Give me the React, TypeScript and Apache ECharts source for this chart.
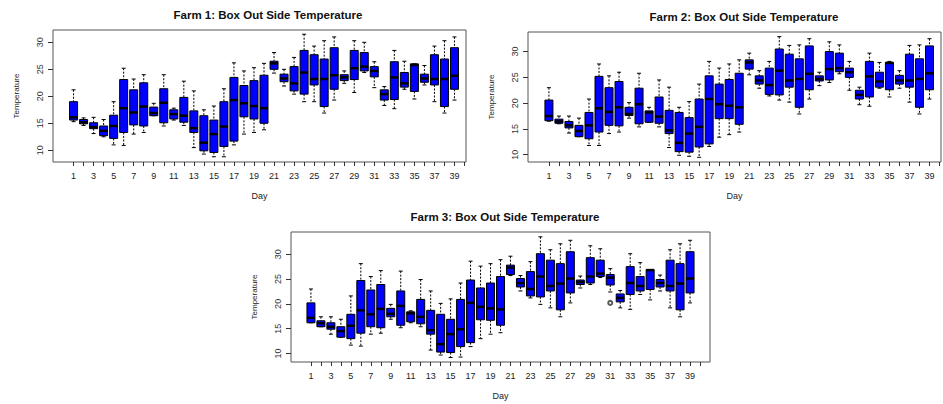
import React, { useEffect, useRef } from "react";
import * as echarts from "echarts";

const days = [1, 2, 3, 4, 5, 6, 7, 8, 9, 10, 11, 12, 13, 14, 15, 16, 17, 18, 19, 20, 21, 22, 23, 24, 25, 26, 27, 28, 29, 30, 31, 32, 33, 34, 35, 36, 37, 38, 39];
const tickDays = [1, 2, 3, 4, 5, 6, 7, 8, 9, 10, 11, 12, 13, 14, 15, 16, 17, 18, 19, 20, 21, 22, 23, 24, 25, 26, 27, 28, 29, 30, 31, 32, 33, 34, 35, 36, 37, 38, 39, 40];
const labelDays = [1, 3, 5, 7, 9, 11, 13, 15, 17, 19, 21, 23, 25, 27, 29, 31, 33, 35, 37, 39];
const tempTicks = [10, 15, 20, 25, 30];

const titles = [
  "Farm 1: Box Out Side Temperature",
  "Farm 2: Box Out Side Temperature",
  "Farm 3: Box Out Side Temperature",
];

// Farm 1
const f1Min = [15.3, 14.6, 13.1, 12.5, 11.0, 10.9, 13.0, 13.3, 16.4, 14.5, 15.6, 14.6, 10.5, 9.3, 8.8, 8.8, 11.0, 13.0, 13.3, 13.8, 24.3, 21.9, 20.4, 19.0, 19.0, 16.9, 19.3, 22.4, 20.7, 24.4, 21.6, 18.3, 17.7, 21.3, 19.5, 22.1, 19.0, 16.9, 19.3];
const f1Q1 = [15.6, 14.9, 14.0, 12.7, 12.2, 13.3, 14.7, 14.5, 16.4, 15.1, 15.8, 15.2, 13.3, 9.9, 9.6, 10.7, 11.7, 16.2, 15.8, 15.0, 25.0, 22.7, 21.0, 20.4, 22.1, 18.1, 21.3, 22.9, 23.1, 24.7, 23.6, 19.3, 19.4, 21.7, 20.9, 22.6, 22.1, 18.1, 21.3];
const f1Med = [16.1, 15.2, 14.3, 13.6, 14.5, 17.8, 17.0, 18.1, 16.9, 18.8, 16.7, 16.4, 14.1, 11.4, 13.0, 14.4, 19.3, 18.7, 18.2, 17.8, 26.1, 23.3, 22.4, 24.4, 23.2, 23.2, 23.9, 23.5, 25.2, 25.5, 24.7, 20.4, 23.5, 22.4, 25.8, 23.3, 23.2, 23.2, 23.8];
const f1Q3 = [19.0, 15.7, 15.1, 14.5, 16.5, 23.1, 21.2, 22.5, 18.0, 21.4, 17.5, 19.8, 17.3, 16.4, 15.6, 19.0, 23.5, 22.0, 22.9, 23.9, 26.5, 24.1, 25.5, 28.5, 27.7, 26.9, 29.0, 24.0, 28.5, 28.1, 25.5, 21.2, 26.4, 24.4, 26.0, 24.1, 27.7, 26.9, 29.0];
const f1Max = [21.2, 16.0, 16.1, 15.7, 19.0, 25.2, 23.2, 24.0, 18.7, 24.0, 17.8, 22.8, 21.0, 17.5, 18.2, 21.4, 26.2, 24.7, 25.3, 26.1, 28.1, 25.0, 27.2, 31.5, 29.3, 30.3, 31.0, 24.7, 30.3, 30.0, 26.4, 21.8, 28.5, 26.5, 26.0, 25.7, 29.3, 30.3, 31.0];

// Farm 2
const f2Min = [16.5, 16.0, 14.2, 13.5, 11.8, 11.8, 14.1, 14.4, 17.1, 15.4, 16.3, 15.4, 11.4, 9.9, 9.7, 9.5, 11.6, 13.4, 13.9, 14.4, 25.5, 22.9, 21.4, 20.6, 20.2, 17.9, 20.8, 23.4, 24.0, 25.7, 22.5, 19.7, 19.4, 22.9, 21.2, 22.9, 20.2, 17.9, 20.8];
const f2Q1 = [16.6, 16.1, 15.2, 13.5, 13.1, 14.4, 15.7, 15.6, 17.6, 16.0, 16.3, 16.1, 14.1, 10.6, 10.5, 11.5, 12.1, 17.0, 17.0, 15.9, 26.6, 23.7, 21.7, 21.6, 23.1, 19.2, 22.6, 24.3, 24.5, 26.1, 25.0, 20.8, 21.2, 23.1, 22.6, 23.7, 23.1, 19.2, 22.6];
const f2Med = [17.5, 16.45, 15.7, 14.6, 15.7, 19.0, 18.3, 19.2, 17.9, 19.8, 18.2, 17.4, 14.7, 12.3, 14.1, 15.4, 20.8, 19.8, 19.5, 19.2, 27.9, 24.4, 23.5, 26.3, 24.4, 24.7, 25.7, 24.7, 26.6, 26.8, 26.0, 21.6, 25.2, 24.2, 27.8, 24.4, 24.4, 24.7, 25.8];
const f2Q3 = [20.6, 16.9, 16.45, 15.7, 18.2, 25.2, 23.0, 24.2, 19.2, 22.9, 18.5, 21.2, 18.6, 18.2, 17.2, 20.8, 25.3, 23.7, 24.6, 25.8, 28.4, 25.3, 26.8, 30.5, 29.5, 28.6, 31.1, 25.3, 30.0, 29.7, 26.8, 22.5, 28.1, 26.0, 27.9, 25.4, 29.5, 28.6, 31.1];
const f2Max = [23.0, 17.5, 17.5, 17.1, 20.8, 27.6, 25.3, 26.0, 20.1, 25.8, 19.2, 24.5, 23.1, 19.2, 20.3, 23.7, 28.1, 26.8, 27.6, 28.4, 29.7, 26.3, 28.1, 32.9, 31.2, 31.3, 32.5, 26.0, 31.9, 31.3, 28.1, 23.1, 29.7, 27.9, 28.1, 26.3, 31.2, 31.3, 32.5];

// Farm 3
const f3Min = [16.2, 15.4, 13.9, 13.3, 11.7, 11.5, 13.9, 14.1, 16.9, 15.2, 16.2, 15.4, 10.7, 9.7, 9.2, 9.3, 11.4, 13.0, 13.9, 14.2, 25.7, 22.6, 21.2, 19.9, 19.2, 17.4, 20.2, 23.2, 23.9, 25.3, 22.4, 19.2, 18.9, 21.9, 20.8, 22.6, 19.2, 17.4, 20.2];
const f3Q1 = [16.2, 15.4, 14.9, 13.3, 13.0, 14.1, 15.4, 15.2, 17.4, 15.7, 16.4, 16.0, 13.9, 10.3, 10.2, 11.4, 12.2, 16.8, 16.7, 15.7, 25.9, 23.4, 21.6, 21.4, 22.6, 18.8, 22.2, 23.9, 24.2, 25.5, 23.8, 20.4, 21.9, 22.6, 22.9, 23.4, 22.6, 18.8, 22.2];
const f3Med = [17.2, 16.1, 15.4, 14.5, 15.6, 18.7, 17.9, 19.0, 18.0, 19.6, 18.1, 17.4, 14.7, 11.9, 13.9, 14.9, 20.2, 19.4, 19.1, 18.9, 27.3, 24.2, 23.0, 25.5, 23.6, 24.1, 25.1, 24.4, 25.5, 26.1, 25.3, 21.2, 24.2, 23.6, 26.8, 24.2, 23.6, 24.1, 25.1];
const f3Q3 = [20.2, 16.6, 16.2, 15.4, 17.9, 24.7, 22.8, 23.9, 19.1, 22.6, 18.4, 20.9, 18.7, 17.9, 16.9, 20.9, 24.8, 23.2, 24.2, 25.5, 27.8, 25.1, 26.5, 30.1, 28.8, 28.1, 30.5, 24.8, 29.3, 28.8, 25.9, 22.0, 27.5, 25.5, 26.9, 24.9, 28.8, 28.1, 30.5];
const f3Max = [23.0, 17.4, 17.4, 16.9, 21.6, 28.1, 25.5, 26.7, 19.9, 26.6, 18.6, 24.9, 22.6, 20.1, 21.0, 24.2, 28.6, 27.6, 28.1, 28.9, 29.6, 25.7, 28.5, 33.5, 30.9, 32.1, 32.8, 25.6, 31.7, 31.1, 27.1, 22.7, 30.1, 28.3, 26.9, 25.8, 30.9, 32.1, 32.8];
const f3OutlierDays = [31];
const f3OutlierValues = [20.2];

const farms = [
  { min: f1Min, q1: f1Q1, med: f1Med, q3: f1Q3, max: f1Max },
  { min: f2Min, q1: f2Q1, med: f2Med, q3: f2Q3, max: f2Max },
  { min: f3Min, q1: f3Q1, med: f3Med, q3: f3Q3, max: f3Max },
];

const FONT = "'Liberation Sans', Arial, sans-serif";

// layout per panel (pixels)
const panels = [
  { left: 53, top: 30, width: 413, height: 132, xMin: -1.05, xMax: 40.15, yMin: 7.83, yMax: 32.28, titleX: 263, titleY: 4 },
  { left: 528, top: 32, width: 413, height: 130, xMin: -1.09, xMax: 40.15, yMin: 8.59, yMax: 33.8, titleX: 739, titleY: 6 },
  { left: 291, top: 232, width: 419, height: 130, xMin: -1.0, xMax: 41.0, yMin: 8.3, yMax: 34.47, titleX: 500, titleY: 206 },
];

const renderBox = (params: any, api: any) => {
  const d = api.value(0);
  const lo = api.value(1);
  const q1 = api.value(2);
  const med = api.value(3);
  const q3 = api.value(4);
  const hi = api.value(5);
  const pLo = api.coord([d, lo]);
  const pQ1 = api.coord([d, q1]);
  const pMed = api.coord([d, med]);
  const pQ3 = api.coord([d, q3]);
  const pHi = api.coord([d, hi]);
  const x = pMed[0];
  const hw = 4;
  const sw = 2;
  const dash = { stroke: "#000", lineWidth: 1, lineDash: [2, 1.5] };
  const solid = { stroke: "#000", lineWidth: 1 };
  return {
    type: "group",
    children: [
      { type: "line", shape: { x1: x, y1: pHi[1], x2: x, y2: pQ3[1] }, style: dash },
      { type: "line", shape: { x1: x, y1: pQ1[1], x2: x, y2: pLo[1] }, style: dash },
      { type: "line", shape: { x1: x - sw, y1: pHi[1], x2: x + sw, y2: pHi[1] }, style: solid },
      { type: "line", shape: { x1: x - sw, y1: pLo[1], x2: x + sw, y2: pLo[1] }, style: solid },
      {
        type: "rect",
        shape: { x: x - hw, y: pQ3[1], width: hw * 2, height: Math.max(pQ1[1] - pQ3[1], 1) },
        style: { fill: "#0000ff", stroke: "#000", lineWidth: 1 },
      },
      { type: "line", shape: { x1: x - hw, y1: pMed[1], x2: x + hw, y2: pMed[1] }, style: { stroke: "#000", lineWidth: 2.5 } },
    ],
  };
};

export default function App() {
  const ref = useRef<HTMLDivElement>(null);
  useEffect(() => {
    document.body.style.margin = "0";
    if (!ref.current) return;
    const chart = echarts.init(ref.current, null, { renderer: "svg" });

    const grid = panels.map((p) => ({
      left: p.left,
      top: p.top,
      width: p.width,
      height: p.height,
      show: true,
      borderColor: "#555",
      borderWidth: 1,
      backgroundColor: "#fff",
      containLabel: false,
    }));

    const xAxis = panels.map((p, i) => ({
      type: "value",
      gridIndex: i,
      min: p.xMin,
      max: p.xMax,
      position: "bottom",
      name: "Day",
      nameLocation: "middle",
      nameGap: 29,
      nameTextStyle: { fontFamily: FONT, fontSize: 9, color: "#222" },
      splitLine: { show: false },
      axisLine: { show: false, onZero: false },
      axisTick: { show: true, length: 4, inside: false, customValues: tickDays, lineStyle: { color: "#333" } },
      axisLabel: { customValues: labelDays, margin: 9, fontFamily: FONT, fontSize: 9, color: "#222" },
    }));

    const yAxis = panels.map((p, i) => ({
      type: "value",
      gridIndex: i,
      min: p.yMin,
      max: p.yMax,
      position: "left",
      name: "Temperature",
      nameLocation: "middle",
      nameRotate: 90,
      nameGap: 33,
      nameTextStyle: { fontFamily: FONT, fontSize: 8, color: "#222" },
      splitLine: { show: false },
      axisLine: { show: false, onZero: false },
      axisTick: { show: true, length: 5, inside: false, customValues: tempTicks, lineStyle: { color: "#333" } },
      axisLabel: { customValues: tempTicks, rotate: 90, margin: 9, fontFamily: FONT, fontSize: 9, color: "#333" },
    }));

    const series: any[] = farms.map((f, i) => ({
      type: "custom",
      xAxisIndex: i,
      yAxisIndex: i,
      renderItem: renderBox,
      encode: { x: 0, y: [1, 2, 3, 4, 5] },
      data: days.map((d, k) => [d, f.min[k], f.q1[k], f.med[k], f.q3[k], f.max[k]]),
      clip: false,
    }));
    series.push({
      type: "scatter",
      xAxisIndex: 2,
      yAxisIndex: 2,
      symbol: "emptyCircle",
      symbolSize: 4,
      itemStyle: { color: "#333", borderColor: "#333", borderWidth: 1 },
      data: f3OutlierDays.map((d, k) => [d, f3OutlierValues[k]]),
    });

    chart.setOption({
      animation: false,
      backgroundColor: "#fff",
      title: panels.map((p, i) => ({
        text: titles[i],
        left: p.titleX,
        top: p.titleY,
        textAlign: "center",
        textStyle: { fontFamily: FONT, fontSize: 11.5, fontWeight: "bold", color: "#111" },
      })),
      grid,
      xAxis,
      yAxis,
      series,
    });
    return () => chart.dispose();
  }, []);
  return <div ref={ref} style={{ width: 943, height: 404 }} />;
}
